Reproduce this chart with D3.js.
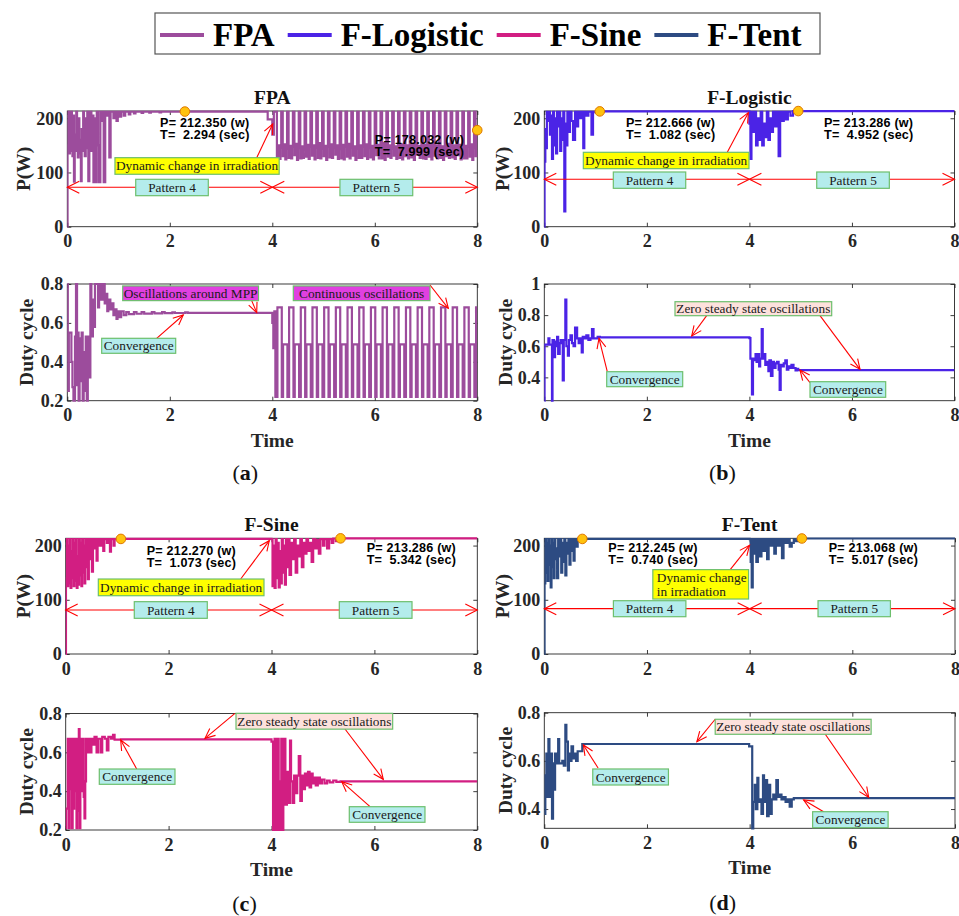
<!DOCTYPE html>
<html>
<head>
<meta charset="utf-8">
<script src="https://cdn.jsdelivr.net/npm/d3@7"></script>
<style>
  body { margin: 0; background: #fff; }
  svg { display: block; }
  text { white-space: pre; }
</style>
</head>
<body>
<svg id="fig" width="959" height="916"></svg>
<script>
// ---------- data ----------
const legendLabels = ["FPA", "F-Logistic", "F-Sine", "F-Tent"];
const timeTicks = [0, 2, 4, 6, 8];
const powerTicks = [0, 100, 200];
const powerDomain = [0, 213.4];
const dutyTicksFPA = [0.2, 0.4, 0.6, 0.8];
const dutyTicksLogistic = [0.4, 0.6, 0.8, 1];
const dutyTicksSine = [0.2, 0.4, 0.6, 0.8];
const dutyTicksTent = [0.4, 0.6, 0.8];

// [time (s), value] change points of each stepped trace
const fpaPower = [
  [0,0],[0.005,150],[0.02,212],[0.035,135],[0.05,195],[0.06,140],[0.075,212],[0.09,160],[0.1,130],[0.115,205],
  [0.13,83],[0.145,170],[0.16,140],[0.175,212],[0.19,150],[0.205,128],[0.22,200],[0.235,160],[0.25,135],[0.265,84],
  [0.28,180],[0.295,140],[0.31,212],[0.325,150],[0.34,130],[0.36,200],[0.375,145],[0.39,212],[0.41,84],[0.43,175],
  [0.45,212],[0.47,140],[0.49,205],[0.51,82],[0.53,200],[0.55,82],[0.575,212],[0.6,150],[0.62,82],[0.645,212],
  [0.67,195],[0.69,212],[0.71,82],[0.74,212],[0.77,205],[0.8,212],[0.82,128],[0.845,212],[0.9,200],[0.93,212],
  [0.96,195],[0.985,212],[1.02,203],[1.05,212],[1.1,205],[1.13,212],[1.2,207],[1.23,212],[1.3,209],[1.33,212],
  [1.45,210],[1.48,212],[1.6,210.5],[1.63,212],[1.8,211],[1.83,212],[2.294,212.35],[3.91,198],[4.0,170],[4.03,212],
  [4.06,212],[4.09,128],[4.115,150],[4.14,125],[4.16,146],
  [4.174,212],[4.204,130],[4.229,152],[4.254,124],[4.274,144],
  [4.288,212],[4.318,127],[4.343,149],[4.368,126],[4.388,147],
  [4.402,212],[4.432,132],[4.457,153],[4.482,123],[4.502,145],
  [4.516,212],[4.546,126],[4.571,148],[4.596,127],[4.616,143],
  [4.63,212],[4.66,129],[4.685,151],[4.71,125],[4.73,148],
  [4.744,212],[4.774,131],[4.799,150],[4.824,124],[4.844,146],
  [4.858,212],[4.888,127],[4.913,154],[4.938,126],[4.958,144],
  [4.972,212],[5.002,130],[5.027,149],[5.052,123],[5.072,147],
  [5.086,212],[5.116,128],[5.141,152],[5.166,127],[5.186,145],
  [5.2,212],[5.23,133],[5.255,150],[5.28,125],[5.3,143],
  [5.314,212],[5.344,126],[5.369,151],[5.394,124],[5.414,148],
  [5.428,212],[5.458,129],[5.483,153],[5.508,126],[5.528,146],
  [5.542,212],[5.572,131],[5.597,148],[5.622,123],[5.642,144],
  [5.656,212],[5.686,127],[5.711,150],[5.736,127],[5.756,147],
  [5.77,212],[5.8,130],[5.825,152],[5.85,125],[5.87,145],
  [5.884,212],[5.914,128],[5.939,149],[5.964,124],[5.984,143],
  [5.998,212],[6.028,132],[6.053,151],[6.078,126],[6.098,148],
  [6.112,212],[6.142,126],[6.167,154],[6.192,123],[6.212,146],
  [6.226,212],[6.256,129],[6.281,150],[6.306,127],[6.326,144],
  [6.34,212],[6.37,131],[6.395,148],[6.42,125],[6.44,147],
  [6.454,212],[6.484,127],[6.509,152],[6.534,124],[6.554,145],
  [6.568,212],[6.598,130],[6.623,150],[6.648,126],[6.668,143],
  [6.682,212],[6.712,128],[6.737,153],[6.762,123],[6.782,148],
  [6.796,212],[6.826,133],[6.851,149],[6.876,127],[6.896,146],
  [6.91,212],[6.94,126],[6.965,151],[6.99,125],[7.01,144],
  [7.024,212],[7.054,129],[7.079,152],[7.104,124],[7.124,147],
  [7.138,212],[7.168,131],[7.193,150],[7.218,126],[7.238,145],
  [7.252,212],[7.282,127],[7.307,148],[7.332,123],[7.352,143],
  [7.366,212],[7.396,130],[7.421,153],[7.446,127],[7.466,148],
  [7.48,212],[7.51,128],[7.535,150],[7.56,125],[7.58,146],
  [7.594,212],[7.624,132],[7.649,151],[7.674,124],[7.694,144],
  [7.708,212],[7.738,126],[7.763,149],[7.788,126],[7.808,147],
  [7.822,212],[7.852,129],[7.877,152],[7.902,123],[7.922,145],
  [7.936,212],[7.966,130],[7.99,178.032],[8,178.032]
];

const fpaDuty = [
  [0,0.8],[0.01,0.25],[0.03,0.55],[0.08,0.4],[0.1,0.27],[0.12,0.2],[0.15,0.53],[0.17,0.8],[0.19,0.28],[0.2,0.55],
  [0.22,0.2],[0.24,0.52],[0.26,0.3],[0.28,0.55],[0.3,0.2],[0.32,0.45],[0.34,0.25],[0.36,0.53],[0.38,0.2],[0.4,0.53],
  [0.43,0.32],[0.45,0.8],[0.47,0.53],[0.5,0.72],[0.52,0.58],[0.54,0.8],[0.6,0.68],[0.62,0.8],[0.66,0.72],[0.7,0.8],
  [0.73,0.7],[0.76,0.75],[0.78,0.66],[0.8,0.72],[0.84,0.67],[0.86,0.7],[0.9,0.64],[0.93,0.67],[0.96,0.62],[0.98,0.66],
  [1.02,0.63],[1.05,0.66],[1.1,0.64],[1.15,0.656],[1.2,0.645],[1.3,0.655],[1.35,0.647],[1.45,0.655],[1.5,0.648],
  [1.65,0.655],[1.7,0.649],[1.85,0.655],[1.9,0.65],[2.05,0.654],[2.1,0.651],[2.3,0.654],[2.35,0.652],
  [4.0,0.6],[4.02,0.47],[4.04,0.66],[4.06,0.22],
  [4.1,0.68],[4.185,0.22],[4.21,0.49],[4.295,0.22],
  [4.328,0.68],[4.413,0.22],[4.438,0.49],[4.523,0.22],
  [4.556,0.68],[4.641,0.22],[4.666,0.49],[4.751,0.22],
  [4.784,0.68],[4.869,0.22],[4.894,0.49],[4.979,0.22],
  [5.012,0.68],[5.097,0.22],[5.122,0.49],[5.207,0.22],
  [5.24,0.68],[5.325,0.22],[5.35,0.49],[5.435,0.22],
  [5.468,0.68],[5.553,0.22],[5.578,0.49],[5.663,0.22],
  [5.696,0.68],[5.781,0.22],[5.806,0.49],[5.891,0.22],
  [5.924,0.68],[6.009,0.22],[6.034,0.49],[6.119,0.22],
  [6.152,0.68],[6.237,0.22],[6.262,0.49],[6.347,0.22],
  [6.38,0.68],[6.465,0.22],[6.49,0.49],[6.575,0.22],
  [6.608,0.68],[6.693,0.22],[6.718,0.49],[6.803,0.22],
  [6.836,0.68],[6.921,0.22],[6.946,0.49],[7.031,0.22],
  [7.064,0.68],[7.149,0.22],[7.174,0.49],[7.259,0.22],
  [7.292,0.68],[7.377,0.22],[7.402,0.49],[7.487,0.22],
  [7.52,0.68],[7.605,0.22],[7.63,0.49],[7.715,0.22],
  [7.748,0.68],[7.833,0.22],[7.858,0.49],[7.943,0.22],
  [7.976,0.68],[8,0.68]
];

const logisticPower = [
  [0,0],[0.005,120],[0.02,180],[0.035,145],[0.05,212],[0.07,195],[0.09,212],[0.11,170],[0.13,205],[0.15,125],
  [0.17,212],[0.19,150],[0.21,200],[0.23,135],[0.25,212],[0.27,185],[0.29,212],[0.31,140],[0.33,200],[0.35,160],
  [0.37,212],[0.39,28],[0.41,190],[0.43,150],[0.45,212],[0.47,175],[0.5,212],[0.53,195],[0.56,160],[0.6,212],
  [0.63,185],[0.66,212],[0.7,200],[0.73,212],[0.76,145],[0.78,212],[0.82,205],[0.86,212],[0.92,170],[0.95,212],
  [1.0,211],[1.082,212.666],[4.0,190],[4.02,125],[4.04,212],[4.07,175],[4.1,212],[4.13,150],[4.16,200],[4.19,160],
  [4.22,212],[4.25,150],[4.28,190],[4.31,165],[4.34,212],[4.37,160],[4.4,200],[4.43,175],[4.46,212],[4.5,185],
  [4.53,212],[4.57,130],[4.6,212],[4.63,195],[4.67,212],[4.71,198],[4.75,212],[4.8,205],[4.85,213],[4.952,213.286],[8,213.286]
];

const logisticDuty = [
  [0,0.25],[0.005,0.61],[0.08,0.65],[0.1,0.61],[0.15,0.25],[0.16,0.64],[0.19,0.53],[0.21,0.63],[0.23,0.6],[0.25,0.66],
  [0.27,0.55],[0.3,0.62],[0.32,0.64],[0.36,0.38],[0.38,0.64],[0.41,0.9],[0.43,0.6],[0.46,0.54],[0.48,0.64],[0.51,0.67],
  [0.54,0.62],[0.57,0.6],[0.6,0.72],[0.64,0.65],[0.67,0.62],[0.7,0.65],[0.73,0.56],[0.75,0.66],[0.78,0.65],[0.82,0.67],
  [0.86,0.64],[0.9,0.65],[0.93,0.71],[0.96,0.65],[1.0,0.65],[1.04,0.66],[1.082,0.657],[4.0,0.652],[4.02,0.52],[4.05,0.29],
  [4.07,0.52],[4.1,0.51],[4.12,0.55],[4.14,0.5],[4.17,0.55],[4.19,0.47],[4.21,0.52],[4.24,0.71],[4.26,0.52],[4.29,0.55],
  [4.31,0.48],[4.34,0.5],[4.37,0.44],[4.39,0.51],[4.42,0.41],[4.45,0.5],[4.48,0.46],[4.51,0.49],[4.54,0.5],[4.57,0.45],
  [4.59,0.32],[4.61,0.48],[4.64,0.47],[4.67,0.49],[4.7,0.51],[4.73,0.45],[4.76,0.47],[4.79,0.46],[4.82,0.48],[4.86,0.46],
  [4.9,0.445],[4.93,0.455],[4.952,0.447],[8,0.447]
];

const sinePower = [
  [0,0],[0.005,140],[0.02,212],[0.035,125],[0.05,200],[0.065,130],[0.08,212],[0.095,122],[0.11,190],[0.125,140],
  [0.14,212],[0.155,125],[0.17,205],[0.185,135],[0.2,212],[0.215,122],[0.23,180],[0.245,128],[0.26,212],[0.275,145],
  [0.29,205],[0.305,125],[0.32,212],[0.335,150],[0.35,200],[0.365,130],[0.38,212],[0.395,160],[0.41,212],[0.43,138],
  [0.45,212],[0.47,175],[0.49,212],[0.51,152],[0.53,212],[0.56,195],[0.59,212],[0.6,172],[0.62,212],[0.66,200],
  [0.69,212],[0.73,190],[0.75,212],[0.8,205],[0.83,212],[0.86,189],[0.88,212],[0.93,200],[0.95,212],[1.073,212.27],
  [4.0,212],[4.02,125],[4.04,200],[4.06,122],[4.08,212],[4.1,140],[4.12,205],[4.14,123],[4.16,190],[4.18,130],
  [4.2,212],[4.22,150],[4.24,200],[4.26,128],[4.28,212],[4.3,160],[4.33,212],[4.35,146],[4.38,205],[4.41,175],
  [4.44,212],[4.47,150],[4.5,200],[4.53,180],[4.56,212],[4.59,160],[4.62,205],[4.65,185],[4.68,212],[4.71,190],
  [4.74,205],[4.78,170],[4.81,212],[4.85,195],[4.88,210],[4.92,185],[4.95,212],[5.0,200],[5.03,212],[5.08,195],
  [5.12,212],[5.17,205],[5.2,213],[5.25,208],[5.28,213],[5.342,213.286],[8,213.286]
];

const sineDuty = [
  [0,0.21],[0.01,0.31],[0.04,0.67],[0.06,0.21],[0.075,0.67],[0.09,0.41],[0.105,0.67],[0.12,0.21],[0.135,0.67],[0.15,0.31],
  [0.165,0.67],[0.18,0.4],[0.195,0.67],[0.21,0.21],[0.225,0.67],[0.24,0.3],[0.255,0.72],[0.27,0.21],[0.285,0.55],[0.3,0.67],
  [0.32,0.4],[0.335,0.67],[0.35,0.37],[0.365,0.26],[0.38,0.45],[0.395,0.67],[0.42,0.6],[0.44,0.67],[0.47,0.6],[0.5,0.67],
  [0.53,0.64],[0.56,0.68],[0.6,0.6],[0.63,0.67],[0.68,0.6],[0.71,0.68],[0.76,0.67],[0.8,0.61],[0.83,0.68],[0.88,0.67],
  [0.92,0.69],[0.95,0.665],[1.073,0.667],[4.0,0.655],[4.03,0.2],[4.06,0.67],[4.08,0.2],[4.1,0.3],[4.12,0.67],[4.14,0.2],
  [4.17,0.45],[4.19,0.67],[4.21,0.2],[4.23,0.5],[4.25,0.67],[4.27,0.33],[4.3,0.5],[4.33,0.34],[4.36,0.66],[4.38,0.45],
  [4.41,0.34],[4.44,0.48],[4.47,0.39],[4.5,0.48],[4.53,0.58],[4.56,0.35],[4.59,0.48],[4.62,0.41],[4.65,0.49],[4.68,0.43],
  [4.71,0.5],[4.74,0.42],[4.77,0.49],[4.8,0.44],[4.83,0.47],[4.86,0.43],[4.9,0.47],[4.94,0.44],[4.98,0.46],[5.03,0.44],
  [5.08,0.455],[5.13,0.445],[5.2,0.455],[5.26,0.448],[5.342,0.45],[8,0.45]
];

const tentPower = [
  [0,0],[0.005,130],[0.02,212],[0.035,150],[0.05,205],[0.065,135],[0.08,212],[0.095,165],[0.11,200],[0.125,123],
  [0.14,212],[0.155,160],[0.17,205],[0.185,140],[0.2,212],[0.215,175],[0.23,195],[0.25,140],[0.27,212],[0.29,180],
  [0.31,212],[0.33,150],[0.35,205],[0.37,170],[0.39,212],[0.41,145],[0.43,205],[0.45,185],[0.47,212],[0.49,165],
  [0.51,212],[0.53,190],[0.55,212],[0.57,172],[0.59,212],[0.62,198],[0.65,212],[0.74,212.245],[4.0,212],[4.02,170],
  [4.04,123],[4.06,212],[4.08,185],[4.1,212],[4.13,170],[4.16,212],[4.2,180],[4.23,212],[4.27,190],[4.3,212],
  [4.34,175],[4.37,212],[4.41,200],[4.44,212],[4.48,185],[4.51,212],[4.55,200],[4.59,212],[4.63,177],[4.66,212],
  [4.7,205],[4.74,212],[4.78,198],[4.82,205],[4.86,212],[4.9,208],[4.95,213],[5.017,213.068],[8,213.068]
];

const tentDuty = [
  [0,0.38],[0.02,0.54],[0.04,0.63],[0.06,0.45],[0.08,0.69],[0.1,0.45],[0.12,0.63],[0.15,0.36],[0.17,0.59],[0.19,0.48],
  [0.21,0.63],[0.24,0.59],[0.27,0.69],[0.29,0.59],[0.32,0.59],[0.35,0.6],[0.38,0.58],[0.41,0.75],[0.43,0.68],[0.46,0.56],
  [0.48,0.63],[0.5,0.6],[0.53,0.66],[0.56,0.61],[0.59,0.63],[0.62,0.6],[0.65,0.64],[0.74,0.67],[3.99,0.66],[4.05,0.32],
  [4.07,0.43],[4.1,0.5],[4.12,0.4],[4.15,0.53],[4.17,0.43],[4.2,0.44],[4.23,0.38],[4.26,0.54],[4.28,0.43],[4.31,0.52],
  [4.34,0.37],[4.37,0.5],[4.4,0.38],[4.43,0.44],[4.46,0.46],[4.49,0.44],[4.52,0.52],[4.55,0.45],[4.58,0.46],[4.62,0.44],
  [4.66,0.45],[4.7,0.43],[4.74,0.44],[4.78,0.41],[4.82,0.44],[4.86,0.445],[5.017,0.445],[8,0.445]
];

// [time (s), power (W)] of the marked convergence points
const fpaMarkers = [[2.294, 212.350], [7.999, 178.032]];
const logisticMarkers = [[1.082, 212.666], [4.952, 213.286]];
const sineMarkers = [[1.073, 212.270], [5.342, 213.286]];
const tentMarkers = [[0.740, 212.245], [5.017, 213.068]];

// ---------- styling ----------
const SERIF = '"Liberation Serif","Times New Roman",serif';
const SANS = '"Liberation Sans",Arial,sans-serif';
const INK = "#262626";
const RED = "#ff0000";
const EDGE = "#6dbf6d";
const FILL = { yellow: "#ffff00", cyan: "#b4ecec", magenta: "#e040e0", pink: "#fde1dc" };
const COLORS = { fpa: "#9c4c9c", logistic: "#4b23e6", sine: "#d21e82", tent: "#2d4b82" };

const svg = d3.select("#fig");
const defs = svg.append("defs");

// ---------- helpers ----------
function head(g, x1, y1, x2, y2, len, half) {
  const a = Math.atan2(y2 - y1, x2 - x1);
  const bx = x2 - len * Math.cos(a), by = y2 - len * Math.sin(a);
  const px = -Math.sin(a) * half, py = Math.cos(a) * half;
  g.append("path")
    .attr("d", `M${bx + px},${by + py}L${x2},${y2}L${bx - px},${by - py}`)
    .attr("fill", "none").attr("stroke", RED).attr("stroke-width", 1.1);
}

function arrow(g, x1, y1, x2, y2, len = 10, half = 4.5) {
  g.append("line").attr("x1", x1).attr("y1", y1).attr("x2", x2).attr("y2", y2)
    .attr("stroke", RED).attr("stroke-width", 1.1);
  head(g, x1, y1, x2, y2, len, half);
}

function noteBox(g, x0, y0, x1, y1, fill, lines, align = "middle") {
  g.append("rect").attr("x", x0).attr("y", y0).attr("width", x1 - x0).attr("height", y1 - y0)
    .attr("fill", fill).attr("stroke", EDGE).attr("stroke-width", 1.2);
  const lh = 13.4;
  const cy = (y0 + y1) / 2 - (lines.length - 1) * lh / 2;
  const t = g.append("text")
    .attr("text-anchor", align === "middle" ? "middle" : "start")
    .attr("font-family", SERIF).attr("font-size", 13.3).attr("fill", "#1a1a1a");
  lines.forEach((s, i) => {
    t.append("tspan")
      .attr("x", align === "middle" ? (x0 + x1) / 2 : x0 + 4)
      .attr("y", cy + i * lh).attr("dy", "0.34em")
      .text(s);
  });
}

function frame(x, y, yTicks) {
  const [x0, x1] = x.range();
  const [yb, yt] = y.range();
  const g = svg.append("g");
  g.append("rect").attr("x", x0).attr("y", yt).attr("width", x1 - x0).attr("height", yb - yt)
    .attr("fill", "none").attr("stroke", INK).attr("stroke-width", 0.9);
  g.append("g").attr("transform", `translate(0,${yb})`)
    .call(d3.axisBottom(x).tickValues(timeTicks).tickSizeInner(-4).tickSizeOuter(0).tickPadding(8).tickFormat(d3.format("d")));
  g.append("g").attr("transform", `translate(0,${yt})`)
    .call(d3.axisTop(x).tickValues(timeTicks).tickSizeInner(-4).tickSizeOuter(0).tickFormat(""));
  g.append("g").attr("transform", `translate(${x0},0)`)
    .call(d3.axisLeft(y).tickValues(yTicks).tickSizeInner(-4).tickSizeOuter(0).tickPadding(4).tickFormat(d => String(d)));
  g.append("g").attr("transform", `translate(${x1},0)`)
    .call(d3.axisRight(y).tickValues(yTicks).tickSizeInner(-4).tickSizeOuter(0).tickFormat(""));
  g.selectAll(".domain").remove();
  g.selectAll(".tick line").attr("stroke", INK).attr("stroke-width", 0.9);
  g.selectAll(".tick text").attr("font-family", SERIF).attr("font-weight", "bold")
    .attr("font-size", 18).attr("fill", INK);
  return g;
}

let clipCount = 0;
function trace(x, y, data, color) {
  const [x0, x1] = x.range();
  const [yb, yt] = y.range();
  const id = "clip" + (clipCount++);
  defs.append("clipPath").attr("id", id).append("rect")
    .attr("x", x0).attr("y", yt - 2).attr("width", x1 - x0).attr("height", yb - yt + 4);
  const line = d3.line().x(d => x(d[0])).y(d => y(d[1])).curve(d3.curveStepAfter);
  svg.append("path").datum(data).attr("clip-path", `url(#${id})`)
    .attr("d", line).attr("fill", "none").attr("stroke", color)
    .attr("stroke-width", 2.2).attr("stroke-linejoin", "miter");
}

function yLabel(cx, cy, s) {
  svg.append("text").attr("transform", `translate(${cx},${cy}) rotate(-90)`)
    .attr("text-anchor", "middle").attr("dy", "0.35em")
    .attr("font-family", SERIF).attr("font-weight", "bold").attr("font-size", 19.5).attr("fill", INK)
    .text(s);
}

// ---------- one algorithm: power (top) + duty cycle (bottom) ----------
function drawPair(c) {
  const x = d3.scaleLinear().domain([0, 8]).range(c.xRange);
  const yP = d3.scaleLinear().domain(powerDomain).range(c.pRange);
  const yD = d3.scaleLinear().domain(c.dutyDomain).range(c.dRange);
  const mid = (c.xRange[0] + c.xRange[1]) / 2;

  // power axes
  frame(x, yP, powerTicks);
  svg.append("text").attr("x", mid).attr("y", c.pRange[1] - 7).attr("text-anchor", "middle")
    .attr("font-family", SERIF).attr("font-weight", "bold").attr("font-size", 19.5).attr("fill", "#111")
    .text(c.title);
  yLabel(c.labelX, (c.pRange[0] + c.pRange[1]) / 2, "P(W)");

  trace(x, yP, c.power, c.color);

  // readouts of the marked points
  const ann = svg.append("g");
  c.markers.forEach((m, i) => {
    const [tx, tv] = c.readouts[i];
    const t = ann.append("text")
      .attr("font-family", SANS).attr("font-weight", "bold").attr("font-size", 12.6)
      .attr("letter-spacing", 0.2).attr("fill", "#000");
    [`P= ${m[1].toFixed(3)} (w)`, `T=  ${m[0].toFixed(3)} (sec)`].forEach((s, k) => {
      t.append("tspan").attr("x", x(tx)).attr("y", yP(tv) - 1 + k * 12.5).text(s);
    });
  });

  // irradiation note
  const n = svg.append("g");
  const ib = c.irr.box;
  arrow(n, x(c.irr.arrow[0]), yP(c.irr.arrow[1]), x(c.irr.arrow[2]), yP(c.irr.arrow[3]));
  noteBox(n, x(ib[0]), yP(ib[1]), x(ib[2]), yP(ib[3]), FILL.yellow, c.irr.lines, c.irr.align);

  // pattern spans
  const py = yP(c.patternV);
  [[0, 4], [4, 8]].forEach(([a, b]) => {
    n.append("line").attr("x1", x(a)).attr("x2", x(b)).attr("y1", py).attr("y2", py)
      .attr("stroke", RED).attr("stroke-width", 1.1);
    head(n, x(b), py, x(a), py, 12, 6);
    head(n, x(a), py, x(b), py, 12, 6);
  });
  [["Pattern 4", c.pattern4], ["Pattern 5", c.pattern5]].forEach(([s, r]) => {
    noteBox(n, x(r[0]), yP(c.patternBox[0]), x(r[1]), yP(c.patternBox[1]), FILL.cyan, [s]);
  });

  // markers
  svg.append("g").selectAll("circle").data(c.markers).join("circle")
    .attr("cx", d => x(d[0])).attr("cy", d => yP(d[1])).attr("r", 4.8)
    .attr("fill", "#ffc20e").attr("stroke", "#e07800").attr("stroke-width", 1);

  // duty cycle axes
  frame(x, yD, c.dutyTicks);
  yLabel(c.labelX + 3, (c.dRange[0] + c.dRange[1]) / 2, "Duty cycle");
  trace(x, yD, c.duty, c.color);

  const dn = svg.append("g");
  c.dutyNotes.forEach(d => {
    d.arrows.forEach(a => arrow(dn, x(a[0]), yD(a[1]), x(a[2]), yD(a[3])));
    noteBox(dn, x(d.box[0]), yD(d.box[1]), x(d.box[2]), yD(d.box[3]), d.fill, [d.text]);
  });

  svg.append("text").attr("x", mid).attr("y", c.dRange[0] + 39).attr("dy", "0.35em")
    .attr("text-anchor", "middle").attr("font-family", SERIF).attr("font-weight", "bold")
    .attr("font-size", 19.5).attr("fill", INK).text("Time");

  const tag = svg.append("text").attr("x", mid - 27).attr("y", c.tagY).attr("dy", "0.35em")
    .attr("text-anchor", "middle").attr("font-family", SERIF).attr("font-size", 22).attr("fill", "#111");
  tag.append("tspan").text("(");
  tag.append("tspan").attr("font-weight", "bold").text(c.tag);
  tag.append("tspan").text(")");
}

// ---------- legend ----------
(function legend() {
  const g = svg.append("g");
  g.append("rect").attr("x", 155).attr("y", 13).attr("width", 665).attr("height", 41)
    .attr("fill", "#fff").attr("stroke", "#555").attr("stroke-width", 1.2);
  const cols = [COLORS.fpa, COLORS.logistic, COLORS.sine, COLORS.tent];
  let cx = 160;
  legendLabels.forEach((s, i) => {
    g.append("line").attr("x1", cx).attr("x2", cx + 44).attr("y1", 35).attr("y2", 35)
      .attr("stroke", cols[i]).attr("stroke-width", 4);
    const t = g.append("text").attr("x", cx + 53).attr("y", 46)
      .attr("font-family", SERIF).attr("font-weight", "bold").attr("font-size", 33).attr("fill", "#000")
      .text(s);
    cx += 53 + t.node().getComputedTextLength() + 13;
  });
})();

// ---------- panels ----------
drawPair({
  title: "FPA", tag: "a", color: COLORS.fpa, power: fpaPower, duty: fpaDuty, markers: fpaMarkers,
  xRange: [67.3, 477.3], pRange: [226.7, 111], dRange: [400.7, 284],
  dutyDomain: [0.2, 0.8], dutyTicks: dutyTicksFPA, labelX: 23.5, tagY: 472,
  readouts: [[1.81, 182.1], [6.0, 151.5]],
  irr: { box: [0.93, 127.3, 4.134, 96.7], lines: ["Dynamic change in irradiation"], align: "middle",
         arrow: [3.696, 127.3, 4.008, 189.3] },
  patternV: 72.7, patternBox: [87.4, 57.2], pattern4: [1.335, 2.751], pattern5: [5.32, 6.74],
  dutyNotes: [
    { box: [1.081, 0.79, 3.731, 0.7145], fill: FILL.magenta, text: "Oscillations around MPP",
      arrows: [[3.598, 0.7145, 3.696, 0.6528]] },
    { box: [4.41, 0.79, 7.077, 0.7145], fill: FILL.magenta, text: "Continuous oscillations",
      arrows: [[7.077, 0.795, 7.434, 0.675]] },
    { box: [0.671, 0.5208, 2.115, 0.4437], fill: FILL.cyan, text: "Convergence",
      arrows: [[1.744, 0.5208, 2.263, 0.6406]] }
  ]
});

drawPair({
  title: "F-Logistic", tag: "b", color: COLORS.logistic, power: logisticPower, duty: logisticDuty, markers: logisticMarkers,
  xRange: [544.3, 954.5], pRange: [226.7, 111], dRange: [400.7, 284],
  dutyDomain: [0.25, 1], dutyTicks: dutyTicksLogistic, labelX: 501.7, tagY: 472,
  readouts: [[1.593, 182.1], [5.455, 182.1]],
  irr: { box: [0.761, 137.2, 3.992, 107], lines: ["Dynamic change in irradiation"], align: "middle",
         arrow: [3.569, 137.2, 3.979, 210.3] },
  patternV: 87.4, patternBox: [100.9, 70.8], pattern4: [1.346, 2.758], pattern5: [5.313, 6.729],
  dutyNotes: [
    { box: [2.549, 0.8862, 5.605, 0.7963], fill: FILL.pink, text: "Zero steady state oscillations",
      arrows: [[3.167, 0.7963, 2.875, 0.6658], [5.377, 0.7963, 6.157, 0.4518]] },
    { box: [1.217, 0.4364, 2.699, 0.34], fill: FILL.cyan, text: "Convergence",
      arrows: [[1.227, 0.438, 1.067, 0.6513]] },
    { box: [5.182, 0.3721, 6.658, 0.2719], fill: FILL.cyan, text: "Convergence",
      arrows: [[5.182, 0.3657, 4.987, 0.4473]] }
  ]
});

drawPair({
  title: "F-Sine", tag: "c", color: COLORS.sine, power: sinePower, duty: sineDuty, markers: sineMarkers,
  xRange: [65.7, 477.3], pRange: [654, 538.3], dRange: [830, 713.5],
  dutyDomain: [0.2, 0.8], dutyTicks: dutyTicksSine, labelX: 23.5, tagY: 903,
  readouts: [[1.574, 181], [5.85, 186.3]],
  irr: { box: [0.634, 138.3, 3.854, 107.5], lines: ["Dynamic change in irradiation"], align: "middle",
         arrow: [3.401, 138.3, 3.957, 209] },
  patternV: 81.2, patternBox: [96.5, 65.8], pattern4: [1.333, 2.752], pattern5: [5.318, 6.731],
  dutyNotes: [
    { box: [3.31, 0.8009, 6.355, 0.7194], fill: FILL.pink, text: "Zero steady state oscillations",
      arrows: [[3.29, 0.8009, 2.707, 0.6722], [5.428, 0.7201, 6.173, 0.461]] },
    { box: [0.653, 0.5141, 2.124, 0.4353], fill: FILL.cyan, text: "Convergence",
      arrows: [[1.38, 0.5141, 1.069, 0.6634]] },
    { box: [5.512, 0.32, 6.983, 0.2397], fill: FILL.cyan, text: "Convergence",
      arrows: [[5.915, 0.32, 5.365, 0.4487]] }
  ]
});

drawPair({
  title: "F-Tent", tag: "d", color: COLORS.tent, power: tentPower, duty: tentDuty, markers: tentMarkers,
  xRange: [544.3, 955], pRange: [654, 538.3], dRange: [828.3, 712.7],
  dutyDomain: [0.32, 0.8], dutyTicks: dutyTicksTent, labelX: 501.7, tagY: 902,
  readouts: [[1.248, 186.3], [5.539, 186.3]],
  irr: { box: [2.114, 155.6, 3.979, 101.4], lines: ["Dynamic change", "in irradiation"], align: "start",
         arrow: [3.621, 155.6, 3.998, 200.4] },
  patternV: 83.6, patternBox: [98.3, 68.8], pattern4: [1.346, 2.758], pattern5: [5.332, 6.742],
  dutyNotes: [
    { box: [3.329, 0.7727, 6.366, 0.7104], fill: FILL.pink, text: "Zero steady state oscillations",
      arrows: [[3.329, 0.7727, 2.972, 0.6796], [5.474, 0.7104, 6.319, 0.4487]] },
    { box: [0.944, 0.5663, 2.418, 0.4998], fill: FILL.cyan, text: "Convergence",
      arrows: [[1.048, 0.5704, 0.761, 0.6659]] },
    { box: [5.227, 0.3889, 6.697, 0.3225], fill: FILL.cyan, text: "Convergence",
      arrows: [[5.441, 0.3889, 5.051, 0.4375]] }
  ]
});
</script>
</body>
</html>
